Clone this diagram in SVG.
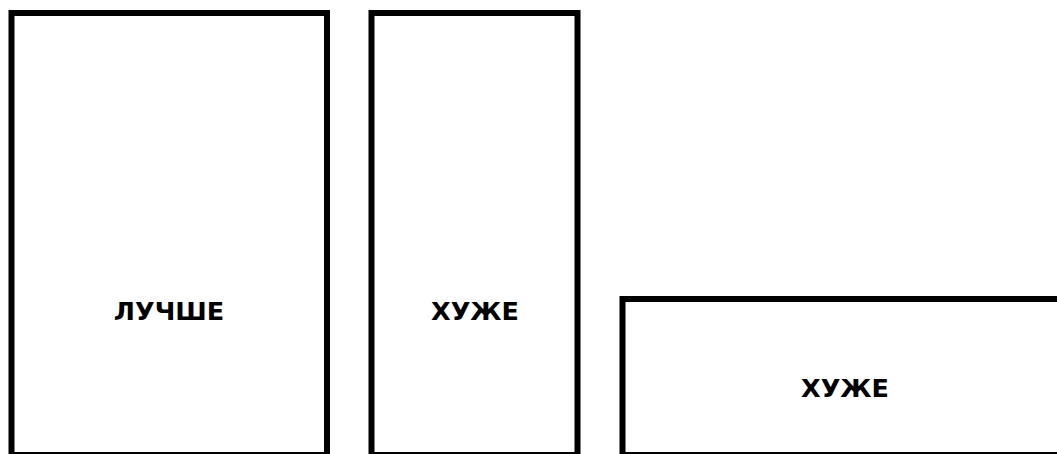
<svg xmlns="http://www.w3.org/2000/svg" width="1057" height="454" viewBox="0 0 1057 454">
<style>
.box{fill:#fff;stroke:#000;stroke-width:6}
.lbl{font-family:"DejaVu Sans","Liberation Sans",sans-serif;font-weight:bold;font-size:25.5px;fill:#000;text-anchor:middle}
</style>
<rect width="1057" height="454" fill="#fff"/>
<g id="node-better">
<rect class="box" x="11.5" y="13" width="315.5" height="442"/>
<text class="lbl" x="169" y="320">ЛУЧШЕ</text>
</g>
<g id="node-worse-1">
<rect class="box" x="371.5" y="13" width="206" height="442"/>
<text class="lbl" x="475" y="320">ХУЖЕ</text>
</g>
<g id="node-worse-2">
<rect class="box" x="622.5" y="299" width="445" height="156"/>
<text class="lbl" x="845" y="397">ХУЖЕ</text>
</g>
<g id="connectors"></g>
</svg>
